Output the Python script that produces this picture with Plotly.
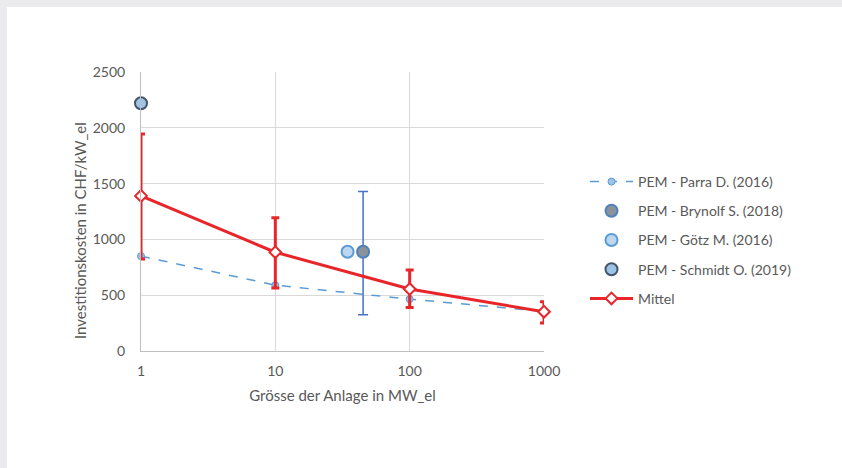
import plotly.graph_objects as go

# Data
size_mw = [1, 10, 100, 1000]
parra_cost = [850, 590, 465, 355]
mittel_cost = [1390, 885, 555, 352]
mittel_err_plus = [555, 310, 170, 90]
mittel_err_minus = [565, 320, 165, 100]

brynolf_x = [45]
brynolf_y = [890]
brynolf_err_plus = [540]
brynolf_err_minus = [565]

goetz_x = [34.5]
goetz_y = [890]

schmidt_x = [1]
schmidt_y = [2220]

FONT = "Lato"
TXT = "#595959"

fig = go.Figure()

fig.add_trace(go.Scatter(
    x=size_mw, y=parra_cost, mode="lines+markers", name="PEM - Parra D. (2016)",
    line=dict(color="#5B9BD5", width=1.5, dash="dash"),
    marker=dict(symbol="circle", size=7, color="#9DC3E6", line=dict(color="#5B9BD5", width=1)),
    legendgroup="a", cliponaxis=False,
))
fig.add_trace(go.Scatter(
    x=brynolf_x, y=brynolf_y, mode="markers", name="PEM - Brynolf S. (2018)",
    marker=dict(symbol="circle", size=12, color="#8A939C", line=dict(color="#4F81BD", width=2)),
    error_y=dict(type="data", symmetric=False, array=brynolf_err_plus, arrayminus=brynolf_err_minus,
                 color="#4472C4", thickness=1.5, width=5),
    legendgroup="b", cliponaxis=False,
))
fig.add_trace(go.Scatter(
    x=goetz_x, y=goetz_y, mode="markers", name="PEM - Götz M. (2016)",
    marker=dict(symbol="circle", size=12, color="#BDD7EE", line=dict(color="#5B9BD5", width=2)),
    legendgroup="c", cliponaxis=False,
))
fig.add_trace(go.Scatter(
    x=schmidt_x, y=schmidt_y, mode="markers", name="PEM - Schmidt O. (2019)",
    marker=dict(symbol="circle", size=12, color="#9DC3E6", line=dict(color="#44546A", width=2)),
    legendgroup="d", cliponaxis=False,
))
fig.add_trace(go.Scatter(
    x=size_mw, y=mittel_cost, mode="lines+markers", name="Mittel",
    line=dict(color="#E8262A", width=3),
    marker=dict(symbol="diamond", size=9, color="white", line=dict(color="#E8262A", width=2)),
    error_y=dict(type="data", symmetric=False, array=mittel_err_plus, arrayminus=mittel_err_minus,
                 color="#E8262A", thickness=3, width=4),
    legendgroup="e", cliponaxis=False,
))

L, R, T, B = 141, 298, 72, 117
W, H = 842, 468
pw, ph = W - L - R, H - T - B

fig.add_shape(type="rect", xref="paper", yref="paper",
              x0=(7 - L) / pw, x1=(W + 5 - L) / pw,
              y0=-(B + 5) / ph, y1=(H - B - 7) / ph,
              fillcolor="white", line=dict(width=0), layer="below")

fig.add_annotation(text="Investitionskosten in CHF/kW_el", xref="paper", yref="paper",
                   x=(80 - L) / pw, y=(351 - 231) / ph, xanchor="center", yanchor="middle",
                   textangle=-90, showarrow=False,
                   font=dict(family=FONT, size=15, color=TXT))

fig.update_layout(
    width=W, height=H,
    margin=dict(l=L, r=R, t=T, b=B, autoexpand=False),
    paper_bgcolor="#EBEBEE",
    plot_bgcolor="white",
    font=dict(family=FONT, size=14, color=TXT),
    showlegend=True,
    legend=dict(x=(585 - L) / pw, y=(351 - 240) / ph, xanchor="left", yanchor="middle",
                traceorder="grouped", tracegroupgap=8, itemwidth=43,
                font=dict(family=FONT, size=14, color=TXT),
                bgcolor="rgba(0,0,0,0)"),
    xaxis=dict(type="log", range=[0, 3], tickvals=[1, 10, 100, 1000], ticktext=["1", "10", "100", "1000"],
               showgrid=True, gridcolor="#D9D9D9", gridwidth=1,
               showline=True, linecolor="#BFBFBF", linewidth=1, mirror=False,
               ticks="", zeroline=False, ticklabelstandoff=7,
               title=dict(text="Grösse der Anlage in MW_el", font=dict(family=FONT, size=15, color=TXT), standoff=12),
               tickfont=dict(family=FONT, size=14, color=TXT)),
    yaxis=dict(range=[0, 2500], tickvals=[0, 500, 1000, 1500, 2000, 2500],
               showgrid=True, gridcolor="#D9D9D9", gridwidth=1,
               showline=True, linecolor="#BFBFBF", linewidth=1,
               ticks="", zeroline=False, ticklabelstandoff=12,
               tickfont=dict(family=FONT, size=14, color=TXT)),
)

fig.write_html("out.html")
